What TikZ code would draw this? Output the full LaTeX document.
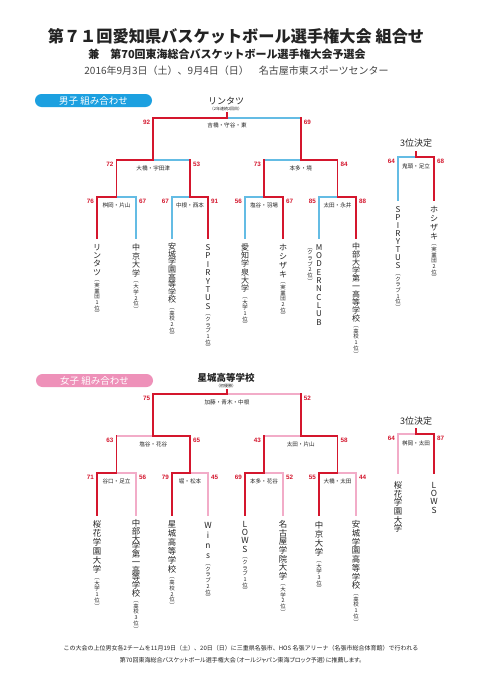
\documentclass[tikz,border=0pt]{standalone}
\usepackage{fontspec}
\setmainfont{Noto Sans CJK JP}
\newfontfamily\jpp{Noto Sans CJK JP}[RawFeature=+palt]
\newfontfamily\numf{Liberation Sans}
\usetikzlibrary{calc}
\definecolor{wred}{RGB}{212,22,45}
\definecolor{lblue}{RGB}{100,188,228}
\definecolor{lpink}{RGB}{242,172,200}
\definecolor{pillblue}{RGB}{28,160,224}
\definecolor{pillpink}{RGB}{238,145,185}
\definecolor{txt}{RGB}{35,35,35}
\makeatletter
\newcommand\tate[2]{\vbox{\offinterlineskip\@tfor\tch:=#2\do{\hbox to #1pt{\vrule height .86\dimexpr #1pt\relax depth .14\dimexpr #1pt\relax width 0pt\hss\smash{\tch}\hss}}}}
\makeatother
\newcommand\vlp{︵}
\newcommand\vrp{︶}
\def\tfs{8}
\newcommand\scL[3]{\node[score,anchor=north east] (#1) at ($(#2)+(-3,1.5)$) {#3};}
\newcommand\scR[3]{\node[score,anchor=north west] (#1) at ($(#2)+(3,1.5)$) {#3};}
\newcommand\team[5]{\node[teamst] (#1) at ($(#2)+(0,5)$) {\tate{#3}{#4}};
 \node[teamst,subst] (#1s) at (#1.south) {\tate{5.7}{\vlp #5\vrp}};}
\begin{document}
\begin{tikzpicture}[x=1pt,y=-1pt,line cap=rect,
  win/.style={draw=wred,line width=1.9pt},
  loseb/.style={draw=lblue,line width=1.2pt},
  losep/.style={draw=lpink,line width=1.1pt},
  score/.style={font=\numf\bfseries\fontsize{6.3}{6.3}\selectfont,text=wred,inner sep=0pt},
  refst/.style={font=\fontsize{5.6}{5.6}\selectfont,text=txt,inner sep=0pt},
  teamst/.style={anchor=north,inner sep=0pt,text=txt,font=\fontsize{\tfs}{\tfs}\selectfont},
  subst/.style={font=\fontsize{5.4}{5.4}\selectfont},
  pillst/.style={rounded corners=6.5pt,minimum width=117pt,minimum height=13pt,inner sep=0pt,text=white,font=\fontsize{9.5}{9.5}\selectfont}]
\fill[white] (0,0) rectangle (481,680);
\useasboundingbox (0,0) rectangle (481,680);
% titles
\node[inner sep=0,text=txt,font=\bfseries\fontsize{16.2}{16.2}\selectfont] (title) at (236,36) {第７１回愛知県バスケットボール選手権大会 組合せ};
\node[inner sep=0,text=txt,font=\bfseries\fontsize{11}{11}\selectfont] (subtitle) at (227,54) {兼　第70回東海総合バスケットボール選手権大会予選会};
\node[inner sep=0,text=txt!85,font=\fontsize{10}{10}\selectfont] (date) at (236.5,70.5) {2016年9月3日（土）、9月4日（日）　名古屋市東スポーツセンター};
% ===== men =====
\node[pillst,fill=pillblue] (mpill) at (93.5,100.5) {男子 組み合わせ};
\node[inner sep=0,text=txt,font=\fontsize{9}{9}\selectfont] (mchamp) at (226,101.5) {リンタツ};
\node[inner sep=0,text=txt,font=\fontsize{4}{4}\selectfont] (mchs) at (226,109) {（2年連続2回目）};
\foreach \n/\x in {1/97,2/136,3/172,4/208,5/245,6/283,7/319,8/356}{\coordinate (m\n) at (\x,238);}
\coordinate (mq1) at (116.5,197);
\coordinate (mq2) at (190,197);
\coordinate (mq3) at (264,197);
\coordinate (mq4) at (337.5,197);
\coordinate (ms1) at (153.25,160);
\coordinate (ms2) at (300.75,160);
\coordinate (mf) at (227,118);
\coordinate (mtop) at (227,113);
\coordinate (m3a) at (398,200);
\coordinate (m3b) at (434,200);
\coordinate (m3j) at (416,157);
\coordinate (m3t) at (416,152);
% losers
\draw[loseb] (m2) |- (mq1);
\draw[loseb] (m3) |- (mq2);
\draw[loseb] (m5) |- (mq3);
\draw[loseb] (m7) |- (mq4);
\draw[loseb] (ms1) -- (mq2 |- ms1);
\draw[loseb] (ms2) -- (mq3 |- ms2);
\draw[loseb] (mf) -- (ms2 |- mf);
\draw[loseb] (m3a) |- (m3j);
% winners
\draw[win] (m1) |- (mq1) |- (ms1) |- (mf) -- (mtop);
\draw[win] (m4) |- (mq2) -- (mq2 |- ms1);
\draw[win] (m6) |- (mq3) -- (mq3 |- ms2);
\draw[win] (m8) |- (mq4) |- (ms2) -- (ms2 |- mf);
\draw[win] (m3b) |- (m3j) -- (m3t);
% scores
\scL{sm1}{ms1 |- mf}{92}\scR{sm2}{ms2 |- mf}{69}
\scL{sm3}{mq1 |- ms1}{72}\scR{sm4}{mq2 |- ms1}{53}
\scL{sm5}{mq3 |- ms2}{73}\scR{sm6}{mq4 |- ms2}{84}
\scL{sm7}{m1 |- mq1}{76}\scR{sm8}{m2 |- mq1}{67}
\scL{sm9}{m3 |- mq2}{67}\scR{sm10}{m4 |- mq2}{91}
\scL{sm11}{m5 |- mq3}{56}\scR{sm12}{m6 |- mq3}{67}
\scL{sm13}{m7 |- mq4}{85}\scR{sm14}{m8 |- mq4}{88}
\scL{sm15}{m3a |- m3j}{64}\scR{sm16}{m3b |- m3j}{68}
% referees
\node[refst] (rm1) at ($(mf)+(0,7.5)$) {吉橋・守谷・東};
\node[refst] (rm2) at ($(ms1)+(0,8.5)$) {大橋・宇田津};
\node[refst] (rm3) at ($(ms2)+(0,8.5)$) {本多・境};
\node[refst] (rm4) at ($(mq1)+(0,8.5)$) {桝岡・片山};
\node[refst] (rm5) at ($(mq2)+(0,8.5)$) {中根・西本};
\node[refst] (rm6) at ($(mq3)+(0,8.5)$) {塩谷・羽場};
\node[refst] (rm7) at ($(mq4)+(0,8.5)$) {太田・永井};
\node[refst] (rm8) at ($(m3j)+(0,9.5)$) {鬼頭・足立};
\node[inner sep=0,text=txt,font=\fontsize{9}{9}\selectfont] (m3lab) at (416,143) {3位決定};
% teams
\team{tm1}{m1}{8.3}{リンタツ}{実業団1位}
\team{tm2}{m2}{8.6}{中京大学}{大学2位}
\team{tm3}{m3}{7.6}{安城学園高等学校}{高校2位}
\team{tm4}{m4}{8.4}{SPIRYTUS}{クラブ1位}
\team{tm5}{m5}{8.3}{愛知学泉大学}{大学1位}
\team{tm6}{m6}{8.8}{ホシザキ}{実業団2位}
\node[teamst] (tm7) at ($(m7)+(0,5)$) {\tate{8.3}{MODERNCLUB}};
\node[teamst,subst] (tm7s) at ($(m7)+(-9,6)$) {\tate{5.7}{\vlp クラブ2位\vrp}};
\team{tm8}{m8}{7.9}{中部大学第一高等学校}{高校1位}
\team{tm9}{m3a}{8.1}{SPIRYTUS}{クラブ1位}
\team{tm10}{m3b}{8.8}{ホシザキ}{実業団2位}
% ===== women =====
\def\tfs{8.4}
\node[pillst,fill=pillpink] (wpill) at (94.5,380.5) {女子 組み合わせ};
\node[inner sep=0,text=txt,font=\bfseries\fontsize{9.5}{9.5}\selectfont] (wchamp) at (226,378) {星城高等学校};
\node[inner sep=0,text=txt,font=\fontsize{4}{4}\selectfont] (wchs) at (226,385.5) {（初優勝）};
\foreach \n/\x in {1/97,2/136,3/172,4/208,5/245,6/283,7/319,8/356}{\coordinate (w\n) at (\x,515);}
\coordinate (wq1) at (116.5,473);
\coordinate (wq2) at (190,473);
\coordinate (wq3) at (264,473);
\coordinate (wq4) at (337.5,473);
\coordinate (ws1) at (153.25,436);
\coordinate (ws2) at (300.75,436);
\coordinate (wf) at (227,394);
\coordinate (wtop) at (227,389.5);
\coordinate (w3a) at (398,473);
\coordinate (w3b) at (434,473);
\coordinate (w3j) at (416,434);
\coordinate (w3t) at (416,428.5);
\draw[losep] (w2) |- (wq1);
\draw[losep] (w4) |- (wq2);
\draw[losep] (w6) |- (wq3);
\draw[losep] (w8) |- (wq4);
\draw[losep] (ws1) -- (wq1 |- ws1);
\draw[losep] (ws2) -- (wq3 |- ws2);
\draw[losep] (wf) -- (ws2 |- wf);
\draw[losep] (w3a) |- (w3j);
\draw[win] (w3) |- (wq2) |- (ws1) |- (wf) -- (wtop);
\draw[win] (w1) |- (wq1) -- (wq1 |- ws1);
\draw[win] (w5) |- (wq3) -- (wq3 |- ws2);
\draw[win] (w7) |- (wq4) |- (ws2) -- (ws2 |- wf);
\draw[win] (w3b) |- (w3j) -- (w3t);
\scL{sw1}{ws1 |- wf}{75}\scR{sw2}{ws2 |- wf}{52}
\scL{sw3}{wq1 |- ws1}{63}\scR{sw4}{wq2 |- ws1}{65}
\scL{sw5}{wq3 |- ws2}{43}\scR{sw6}{wq4 |- ws2}{58}
\scL{sw7}{w1 |- wq1}{71}\scR{sw8}{w2 |- wq1}{56}
\scL{sw9}{w3 |- wq2}{79}\scR{sw10}{w4 |- wq2}{45}
\scL{sw11}{w5 |- wq3}{69}\scR{sw12}{w6 |- wq3}{52}
\scL{sw13}{w7 |- wq4}{55}\scR{sw14}{w8 |- wq4}{44}
\scL{sw15}{w3a |- w3j}{64}\scR{sw16}{w3b |- w3j}{87}
\node[refst] (rw1) at ($(wf)+(0,8)$) {加藤・青木・中根};
\node[refst] (rw2) at ($(ws1)+(0,8.5)$) {塩谷・花谷};
\node[refst] (rw3) at ($(ws2)+(0,8.5)$) {太田・片山};
\node[refst] (rw4) at ($(wq1)+(0,8.5)$) {谷口・足立};
\node[refst] (rw5) at ($(wq2)+(0,8.5)$) {堀・松本};
\node[refst] (rw6) at ($(wq3)+(0,8.5)$) {本多・花谷};
\node[refst] (rw7) at ($(wq4)+(0,8.5)$) {大橋・太田};
\node[refst] (rw8) at ($(w3j)+(0,9.5)$) {桝岡・太田};
\node[inner sep=0,text=txt,font=\fontsize{9}{9}\selectfont] (w3lab) at (416,421) {3位決定};
\team{tw1}{w1}{9.0}{桜花学園大学}{大学1位}
\team{tw2}{w2}{7.7}{中部大学第一高等学校}{高校3位}
\team{tw3}{w3}{8.9}{星城高等学校}{高校2位}
\team{tw4}{w4}{10}{Wins}{クラブ2位}
\team{tw5}{w5}{8.3}{LOWS}{クラブ1位}
\team{tw6}{w6}{8.6}{名古屋学院大学}{大学2位}
\team{tw7}{w7}{9.2}{中京大学}{大学3位}
\team{tw8}{w8}{8.75}{安城学園高等学校}{高校1位}
\node[teamst] (tw9) at ($(w3a)+(0,8)$) {\tate{8.6}{桜花学園大学}};
\node[teamst] (tw10) at ($(w3b)+(0,8)$) {\tate{8.3}{LOWS}};
% footer
\node[inner sep=0,text=txt,font=\fontsize{6}{6}\selectfont] (foot1) at (241,648) {この大会の上位男女各2チームを11月19日（土）、20日（日）に三重県名張市、HOS 名張アリーナ（名張市総合体育館）で行われる};
\node[inner sep=0,text=txt,font=\jpp\fontsize{6}{6}\selectfont] (foot2) at (241,660) {第70回東海総合バスケットボール選手権大会（オールジャパン東海ブロック予選）に推薦します。};
\end{tikzpicture}
\end{document}
